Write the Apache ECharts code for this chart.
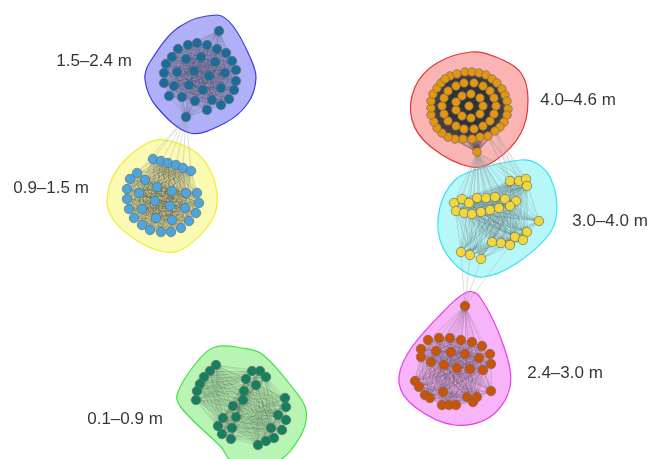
<!DOCTYPE html>
<html>
<head>
<meta charset="utf-8">
<script src="https://cdn.jsdelivr.net/npm/echarts@6/dist/echarts.min.js"></script>
<style>
  html, body { margin: 0; padding: 0; background: #fff; }
  #chart { width: 652px; height: 459px; }
</style>
</head>
<body>
<div id="chart"></div>
<script>
// node positions, in pixel-like units (y grows downward)
const blueNodes = [[219,31],[178,49],[188,45],[197,43],[207,45],[217,49],[226,53],[172,57],[186,59],[201,57],
  [215,62],[232,61],[166,64],[177,72],[194,71],[209,76],[225,73],[236,70],[164,73],[164,83],[174,86],[189,85],
  [203,90],[221,88],[236,81],[234,90],[169,96],[182,97],[195,101],[212,100],[221,105],[229,99],[207,110],[186,117]]

const yellowNodes = [[153,159],[161,161],[168,163],[176,165],[183,168],[191,171],[137,173],[130,179],[145,180],
  [157,187],[172,191],[186,193],[197,193],[127,189],[139,193],[127,199],[155,201],[170,206],[185,208],[199,203],
  [129,209],[142,209],[196,213],[134,218],[156,218],[172,220],[189,221],[142,225],[181,228],[150,230],[161,232],[171,232]]

const redNodes = [[450,76],[457,74],[465,72],[472,72],[479,73],[486,75],[492,79],[497,83],[502,89],[505,95],
  [507,101],[508,109],[507,115],[504,122],[500,127],[495,131],[488,136],[480,137],[472,139],[463,139],[455,139],
  [448,137],[442,133],[437,128],[434,122],[431,115],[431,108],[431,101],[433,94],[437,88],[441,83],[445,79],
  [496,106],[494,114],[490,121],[483,126],[474,129],[464,129],[456,126],[448,121],[444,114],[442,106],[444,98],
  [448,91],[456,86],[464,83],[474,83],[483,86],[490,91],[494,98],
  [483,106],[480,114],[471,118],[462,116],[456,110],[456,102],[462,96],[471,94],[480,98],[469,106],
  [477,152]]

const cyanNodes = [[510,181],[519,181],[526,179],[527,186],
  [454,203],[462,199],[469,203],[477,198],[486,198],[495,197],[505,199],[516,201],[510,206],
  [456,211],[464,213],[472,214],[481,212],[490,210],[499,208],
  [539,221],
  [527,232],[515,237],[523,240],[492,242],[501,243],[510,245],
  [461,252],[470,255],[481,259]]

const pinkNodes = [[465,306],
  [428,340],[439,338],[450,338],[461,340],[472,342],[482,346],
  [421,349],[436,351],[451,352],[465,354],[479,358],[490,354],
  [421,357],[431,362],[444,365],[457,368],[470,369],[483,370],[491,364],
  [415,381],[419,387],[491,391],
  [425,395],[430,398],[443,392],[467,397],[473,402],[477,397],
  [442,405],[449,405],[456,405]]

const greenNodes = [[216,365],[210,371],[204,377],[200,384],[197,391],[196,400],
  [252,371],[260,371],[266,377],[246,379],[256,385],[244,391],[243,400],
  [233,406],[236,417],[223,418],[218,426],[232,428],[222,434],[231,439],
  [285,398],[286,407],[278,415],[286,420],[271,428],[282,430],[274,438],[266,441],[258,445]]

// convex hull outlines around each group
const blueHull = [[217,15],[233,26],[250,57],[256,78],[248,103],[225,123],[190,133],[156,106],[145,80],[150,62],[179,27]]
const yellowHull = [[156,140],[187,147],[206,163],[217,193],[212,220],[186,247],[165,252],[133,238],[110,214],[109,187],[125,160]]
const redHull = [[471,52],[496,57],[521,73],[528,100],[521,133],[496,160],[471,167],[431,147],[412,120],[415,87],[437,63]]
const cyanHull = [[521,160],[536,163],[550,177],[557,207],[550,233],[517,263],[483,277],[458,267],[440,240],[440,207],[454,181],[475,170]]
const pinkHull = [[467,292],[480,297],[504,347],[510,387],[490,417],[454,425],[415,407],[399,383],[408,353],[442,313]]
const greenHull = [[215,347],[242,348],[262,354],[292,387],[306,410],[300,437],[276,462],[233,462],[221,447],[183,410],[177,395],[196,363]]

const clusterNames = ['1.5–2.4 m', '0.9–1.5 m', '4.0–4.6 m', '3.0–4.0 m', '2.4–3.0 m', '0.1–0.9 m']
const labelPos = [[94,61],[51,188],[578,100],[610,221],[565,373],[125,419]]

// links between groups: [fromGroup, fromNode, toGroup, toNodes]
const bridges = [
  [0, 33, 1, [0,1,2,3,4,5,6]],
  [2, 60, 3, [0,1,2,3,4,5,6,7,8,9,10,11,12,13,14,15,16,17,18,19,20,21,22,23,24,25,26,27,28]],
  [2, 16, 3, [0,1,2,3,11]],
  [2, 15, 3, [0,1,2,3]],
  [3, 26, 4, [0]], [3, 27, 4, [0]], [3, 28, 4, [0]], [3, 25, 4, [0]]
]

const groups = [
  { nodes: blueNodes, hull: blueHull, node: '#1b6c9c', fill: '#b0b0f8', stroke: '#3b3be6', size: 9.5, edge: 0.22 },
  { nodes: yellowNodes, hull: yellowHull, node: '#4ba5de', fill: '#fafab2', stroke: '#f2ec2e', size: 9.5, edge: 0.26 },
  { nodes: redNodes, hull: redHull, node: '#e5960d', fill: '#fab4b4', stroke: '#e63535', size: 8.5, edge: 0.4 },
  { nodes: cyanNodes, hull: cyanHull, node: '#f1d83a', fill: '#b6f8fa', stroke: '#38e2f0', size: 9.5, edge: 0.2 },
  { nodes: pinkNodes, hull: pinkHull, node: '#cc5204', fill: '#f8b4f8', stroke: '#e83ae8', size: 9.5, edge: 0.22 },
  { nodes: greenNodes, hull: greenHull, node: '#14805f', fill: '#b8f4b4', stroke: '#45e045', size: 9.5, edge: 0.2 }
]

const graphNodes = []
const graphLinks = []
const offsets = []
groups.forEach((g) => {
  offsets.push(graphNodes.length)
  g.nodes.forEach((p) => {
    graphNodes.push({
      value: p,
      symbolSize: g.size,
      itemStyle: { color: g.node, borderColor: '#6b6b6b', borderWidth: 0.7 }
    })
  })
})
groups.forEach((g, gi) => {
  const o = offsets[gi]
  const ls = { color: '#333', opacity: g.edge, width: 0.5 }
  for (let i = 0; i < g.nodes.length; i++) {
    for (let j = i + 1; j < g.nodes.length; j++) {
      graphLinks.push({ source: o + i, target: o + j, lineStyle: ls })
    }
  }
})
bridges.forEach(([ga, na, gb, list]) => {
  list.forEach((nb) => {
    graphLinks.push({
      source: offsets[ga] + na,
      target: offsets[gb] + nb,
      lineStyle: { color: '#9a9a9a', opacity: 0.55, width: 0.6 }
    })
  })
})

const chart = echarts.init(document.getElementById('chart'))
chart.setOption({
  animation: false,
  backgroundColor: '#fff',
  grid: { left: 0, right: 0, top: 0, bottom: 0 },
  xAxis: { type: 'value', min: 0, max: 652, show: false },
  yAxis: { type: 'value', min: 0, max: 459, inverse: true, show: false },
  series: [
    {
      type: 'custom',
      z: 1,
      silent: true,
      clip: false,
      data: groups.map((g, i) => [i]),
      renderItem: (params, api) => {
        const g = groups[params.dataIndex]
        return {
          type: 'polygon',
          shape: { points: g.hull.map((p) => api.coord(p)), smooth: 0.35 },
          style: { fill: g.fill, stroke: g.stroke, lineWidth: 1.2 }
        }
      }
    },
    {
      type: 'graph',
      coordinateSystem: 'cartesian2d',
      z: 2,
      silent: true,
      data: graphNodes,
      links: graphLinks,
      lineStyle: { color: '#333', opacity: 0.2, width: 0.5 },
      label: { show: false },
      emphasis: { disabled: true }
    },
    {
      type: 'scatter',
      z: 3,
      silent: true,
      symbolSize: 0,
      data: labelPos,
      label: {
        show: true,
        position: 'inside',
        formatter: (p) => clusterNames[p.dataIndex],
        fontSize: 17,
        color: '#000',
        fontFamily: 'Liberation Sans, Arial, sans-serif'
      }
    }
  ]
})
</script>
</body>
</html>
